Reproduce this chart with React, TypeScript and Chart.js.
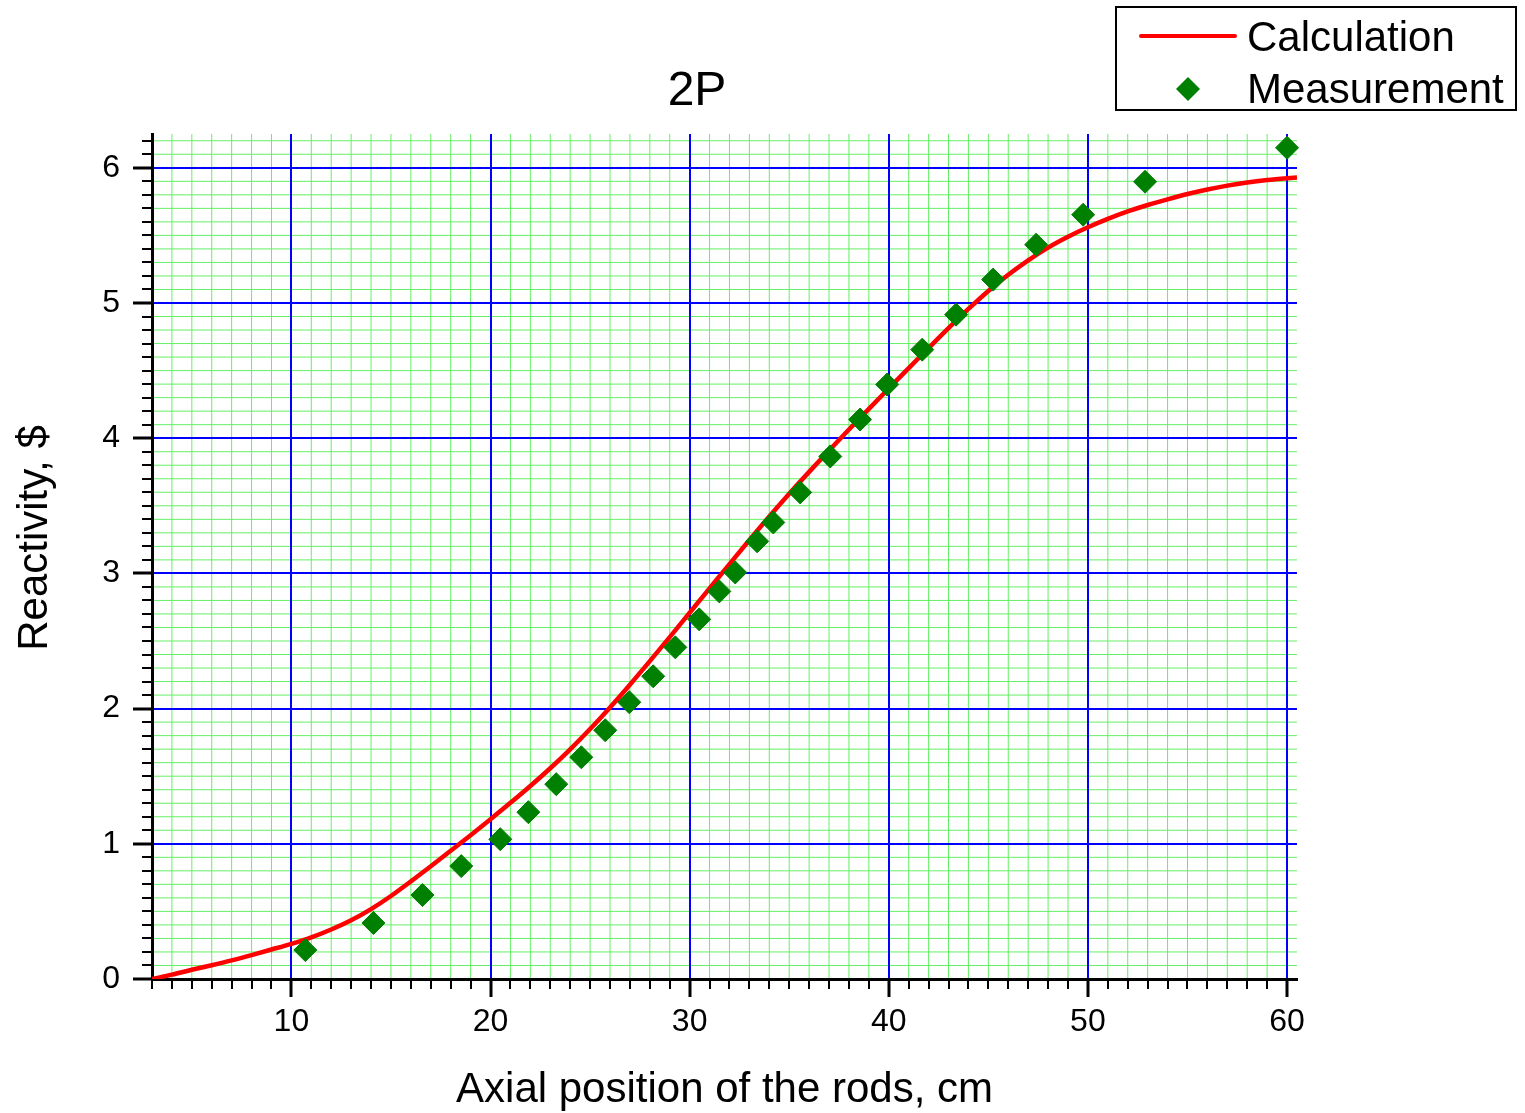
import React, { useEffect, useRef } from 'react';
import { Chart, registerables } from 'chart.js';

Chart.register(...registerables);

// ---- Data ----
const calcX = [3, 4, 5, 6, 7, 8, 9, 10, 11, 12, 13, 14, 15, 16, 17, 18, 19, 20, 21, 22, 23, 24, 25, 26, 27, 28, 29, 30, 31, 32, 33, 34, 35, 36, 37, 38, 39, 40, 41, 42, 43, 44, 45, 46, 47, 48, 49, 50, 51, 52, 53, 54, 55, 56, 57, 58, 59, 60, 60.5];
const calcY = [0, 0.032, 0.068, 0.102, 0.138, 0.177, 0.218, 0.26, 0.308, 0.366, 0.434, 0.517, 0.614, 0.722, 0.834, 0.948, 1.064, 1.182, 1.303, 1.428, 1.559, 1.699, 1.849, 2.009, 2.177, 2.351, 2.529, 2.709, 2.889, 3.069, 3.247, 3.421, 3.589, 3.751, 3.909, 4.064, 4.217, 4.368, 4.518, 4.667, 4.814, 4.956, 5.089, 5.209, 5.316, 5.41, 5.49, 5.56, 5.622, 5.677, 5.725, 5.767, 5.806, 5.84, 5.868, 5.891, 5.909, 5.923, 5.929];

const measX = [10.7, 14.12, 16.58, 18.53, 20.49, 21.9, 23.3, 24.56, 25.76, 26.97, 28.17, 29.28, 30.48, 31.49, 32.29, 33.39, 34.2, 35.55, 37.06, 38.56, 39.92, 41.68, 43.38, 45.24, 47.4, 49.76, 52.87, 60.0];
const measY = [0.214, 0.414, 0.621, 0.835, 1.034, 1.234, 1.441, 1.64, 1.84, 2.047, 2.239, 2.453, 2.66, 2.867, 3.007, 3.237, 3.377, 3.599, 3.865, 4.138, 4.397, 4.655, 4.914, 5.173, 5.431, 5.653, 5.897, 6.148];

const xMajorTicks = [10, 20, 30, 40, 50, 60];
const yMajorTicks = [0, 1, 2, 3, 4, 5, 6];

const chartTitle = '2P';
const xTitle = 'Axial position of the rods, cm';
const yTitle = 'Reactivity, $';
const seriesNames = ['Calculation', 'Measurement'];

const FONT = '"Liberation Sans", Arial, Helvetica, sans-serif';
const RED = '#ff0000';
const GREEN_PT = '#008000';
const GRID_MINOR = 'rgb(100,240,100)';
const GRID_MAJOR = '#0000ff';

const isMajorX = (v: number) => Math.abs(v / 10 - Math.round(v / 10)) < 1e-6;
const isMajorY = (v: number) => Math.abs(v - Math.round(v)) < 1e-6;

const customPlugin = {
  id: 'customDecor',
  beforeDraw(chart: any) {
    const { ctx, chartArea: a } = chart;
    const xs = chart.scales.x;
    const ys = chart.scales.y;
    ctx.save();
    ctx.fillStyle = '#ffffff';
    ctx.fillRect(0, 0, chart.width, chart.height);
    // minor grid
    ctx.strokeStyle = GRID_MINOR;
    ctx.lineWidth = 1;
    ctx.beginPath();
    xs.ticks.forEach((t: any) => {
      if (isMajorX(t.value)) return;
      const px = xs.getPixelForValue(t.value);
      ctx.moveTo(px, a.top);
      ctx.lineTo(px, a.bottom);
    });
    ys.ticks.forEach((t: any) => {
      if (isMajorY(t.value)) return;
      const py = ys.getPixelForValue(t.value);
      ctx.moveTo(a.left, py);
      ctx.lineTo(a.right, py);
    });
    ctx.stroke();
    // major grid
    ctx.strokeStyle = GRID_MAJOR;
    ctx.lineWidth = 2;
    ctx.beginPath();
    xs.ticks.forEach((t: any) => {
      if (!isMajorX(t.value)) return;
      const px = Math.round(xs.getPixelForValue(t.value));
      ctx.moveTo(px, a.top);
      ctx.lineTo(px, a.bottom);
    });
    ys.ticks.forEach((t: any) => {
      if (!isMajorY(t.value)) return;
      const py = Math.round(ys.getPixelForValue(t.value));
      ctx.moveTo(a.left, py);
      ctx.lineTo(a.right, py);
    });
    ctx.stroke();
    ctx.restore();
  },
  afterDraw(chart: any) {
    const { ctx, chartArea: a } = chart;
    const xs = chart.scales.x;
    const ys = chart.scales.y;
    ctx.save();
    // tick marks
    ctx.strokeStyle = '#000';
    xs.ticks.forEach((t: any) => {
      const major = isMajorX(t.value);
      const px = Math.round(xs.getPixelForValue(t.value));
      ctx.lineWidth = major ? 3 : 2;
      ctx.beginPath();
      ctx.moveTo(px, a.bottom);
      ctx.lineTo(px, a.bottom + (major ? 18 : 10));
      ctx.stroke();
    });
    ys.ticks.forEach((t: any) => {
      const major = isMajorY(t.value);
      const py = Math.round(ys.getPixelForValue(t.value));
      ctx.lineWidth = major ? 3 : 2;
      ctx.beginPath();
      ctx.moveTo(a.left, py);
      ctx.lineTo(a.left - (major ? 19 : 10), py);
      ctx.stroke();
    });
    // titles
    ctx.fillStyle = '#000';
    ctx.textAlign = 'center';
    ctx.textBaseline = 'alphabetic';
    ctx.font = `48px ${FONT}`;
    ctx.fillText(chartTitle, 697, 105);
    ctx.font = `42px ${FONT}`;
    ctx.fillText(xTitle, (a.left + a.right) / 2, 1102);
    ctx.save();
    ctx.translate(47, 538);
    ctx.rotate(-Math.PI / 2);
    ctx.fillText(yTitle, 0, 0);
    ctx.restore();
    // legend
    ctx.lineWidth = 2;
    ctx.strokeStyle = '#000';
    ctx.strokeRect(1116, 7, 400, 103);
    ctx.strokeStyle = RED;
    ctx.lineWidth = 4;
    ctx.lineCap = 'round';
    ctx.beginPath();
    ctx.moveTo(1141, 36);
    ctx.lineTo(1235, 36);
    ctx.stroke();
    ctx.fillStyle = GREEN_PT;
    ctx.beginPath();
    ctx.moveTo(1188 - 12, 89);
    ctx.lineTo(1188, 89 - 12);
    ctx.lineTo(1188 + 12, 89);
    ctx.lineTo(1188, 89 + 12);
    ctx.closePath();
    ctx.fill();
    ctx.fillStyle = '#000';
    ctx.textAlign = 'left';
    ctx.font = `42px ${FONT}`;
    ctx.fillText(seriesNames[0], 1247, 51);
    ctx.fillText(seriesNames[1], 1247, 103);
    ctx.restore();
  },
};

export default function App() {
  const ref = useRef<HTMLCanvasElement>(null);
  useEffect(() => {
    if (!ref.current) return;
    const chart = new Chart(ref.current, {
      type: 'scatter',
      data: {
        datasets: [
          {
            type: 'line',
            label: seriesNames[0],
            data: calcX.map((x, i) => ({ x, y: calcY[i] })),
            borderColor: RED,
            borderWidth: 4.5,
            pointRadius: 0,
            cubicInterpolationMode: 'monotone',
            fill: false,
            order: 2,
          } as any,
          {
            type: 'scatter',
            label: seriesNames[1],
            data: measX.map((x, i) => ({ x, y: measY[i] })),
            pointStyle: 'rectRot',
            pointRadius: 11.5,
            backgroundColor: GREEN_PT,
            borderColor: GREEN_PT,
            borderWidth: 1,
            clip: false,
            order: 1,
          } as any,
        ],
      },
      options: {
        responsive: false,
        animation: false,
        devicePixelRatio: 1,
        layout: { padding: { left: 0, right: 228, top: 134, bottom: 0 } },
        plugins: {
          legend: { display: false },
          title: { display: false },
          tooltip: { enabled: false },
        },
        scales: {
          x: {
            type: 'linear',
            min: 3,
            max: 60.5,
            afterFit: (s: any) => { s.height = 134; },
            grid: { display: false, drawTicks: false },
            border: { display: true, color: '#000', width: 3 },
            ticks: {
              stepSize: 1,
              autoSkip: false,
              includeBounds: false,
              maxRotation: 0,
              padding: 24,
              color: '#000',
              font: { family: FONT, size: 32 },
              callback: (v: any) => (xMajorTicks.includes(Number(v)) ? String(v) : ''),
            },
          },
          y: {
            type: 'linear',
            min: 0,
            max: 6.25,
            afterFit: (s: any) => { s.width = 152; },
            grid: { display: false, drawTicks: false },
            border: { display: true, color: '#000', width: 3 },
            ticks: {
              stepSize: 0.1,
              autoSkip: false,
              includeBounds: false,
              padding: 32,
              color: '#000',
              font: { family: FONT, size: 32 },
              callback: (v: any) => {
                const r = Math.round(Number(v) * 10);
                return r % 10 === 0 && yMajorTicks.includes(r / 10) ? String(r / 10) : '';
              },
            },
          },
        },
      } as any,
      plugins: [customPlugin],
    });
    return () => chart.destroy();
  }, []);
  return (
    <div style={{ position: 'absolute', left: 0, top: 0, width: 1525, height: 1113 }}>
      <canvas ref={ref} width={1525} height={1113} style={{ display: 'block', width: 1525, height: 1113 }} />
    </div>
  );
}
